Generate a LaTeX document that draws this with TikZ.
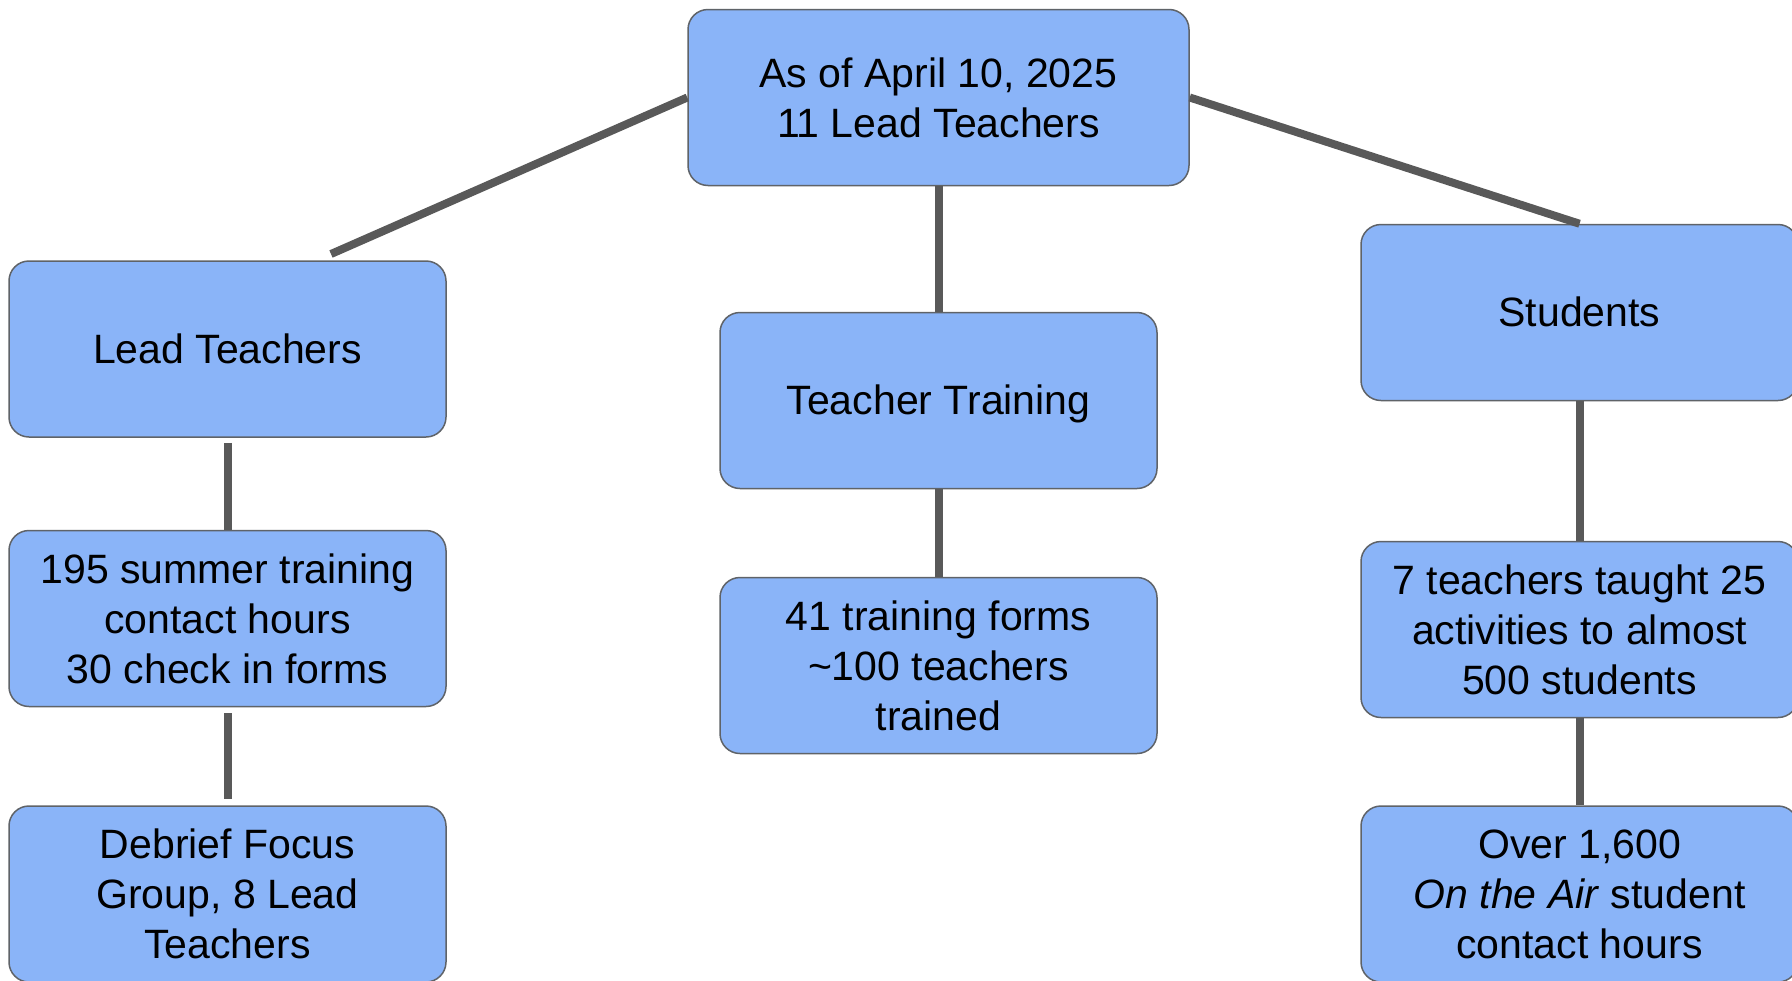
\documentclass[tikz,border=0pt]{standalone}
\usepackage{fontspec}
\setmainfont{Liberation Sans}
\definecolor{boxfill}{HTML}{8AB4F8}
\definecolor{boxline}{HTML}{5F6368}
\definecolor{conn}{HTML}{595959}
\begin{document}
\begin{tikzpicture}[x=0.5pt,y=-0.5pt,
  box/.style={rectangle, rounded corners=10pt, fill=boxfill, draw=boxline, line width=0.75pt,
    minimum width=218.5pt, minimum height=88pt, align=center, inner sep=0pt,
    font=\fontsize{20.5pt}{25pt}\selectfont},
  oneline/.style={text height=18.5pt, text depth=4.3pt},
  conline/.style={draw=conn, line width=4pt}]
\useasboundingbox (0,0) rectangle (1792,980);
\clip (0,0) rectangle (1792,980);
\fill[white] (0,0) rectangle (1792,980);
\node[box, minimum width=250.5pt] (top) at (938.5,97.5) {As of April 10, 2025\\11 Lead Teachers};
\node[box, oneline] (lt) at (227.5,349) {Lead Teachers};
\node[box, oneline] (tt) at (938.5,400.5) {Teacher Training};
\node[box, oneline] (st) at (1579.5,312.5) {Students};
\node[box] (s195) at (227.5,618.5) {195 summer training\\contact hours\\30 check in forms};
\node[box] (f41) at (938.5,665.5) {41 training forms\\\textasciitilde100 teachers\\trained};
\node[box] (t7) at (1579.5,629.5) {7 teachers taught 25\\activities to almost\\500 students};
\node[box] (deb) at (227.5,894) {Debrief Focus\\Group, 8 Lead\\Teachers};
\node[box] (o16) at (1579.5,894) {Over 1,600\\\textit{On the Air} student\\contact hours};
\coordinate (ltend) at (331,254);
\draw[conline] (top.west) -- (ltend);
\draw[conline] (top.east) -- (st.north);
\draw[conline] (top.south) -- (tt.north);
\draw[conline, shorten <=2.5pt] (lt.south) -- (s195.north);
\draw[conline, shorten <=3pt, shorten >=3pt] (s195.south) -- (deb.north);
\draw[conline] (tt.south) -- (f41.north);
\draw[conline] (st.south) -- (t7.north);
\draw[conline] (t7.south) -- (o16.north);
\end{tikzpicture}
\end{document}
